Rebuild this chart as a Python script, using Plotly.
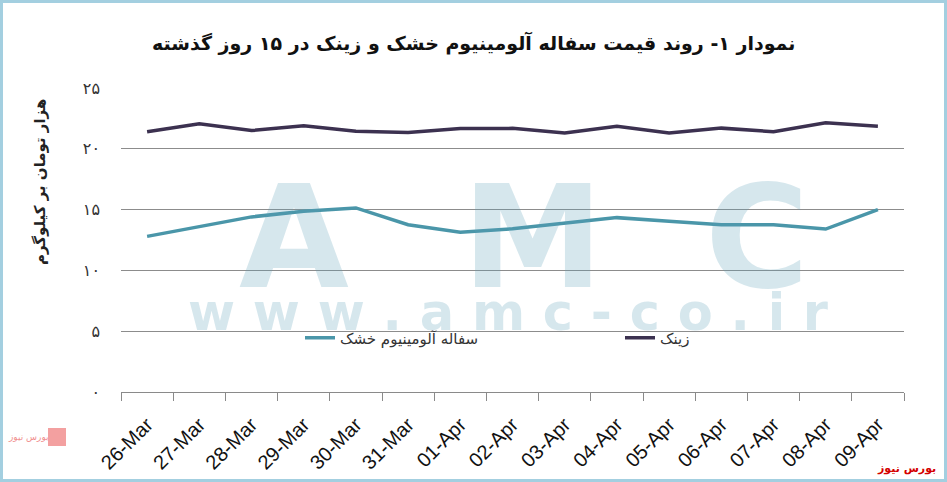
import plotly.graph_objects as go

dates = ["26-Mar", "27-Mar", "28-Mar", "29-Mar", "30-Mar", "31-Mar", "01-Apr", "02-Apr",
         "03-Apr", "04-Apr", "05-Apr", "06-Apr", "07-Apr", "08-Apr", "09-Apr"]
zinc = [21.4, 22.05, 21.5, 21.9, 21.45, 21.35, 21.67, 21.68, 21.3, 21.86, 21.3, 21.7, 21.4, 22.14, 21.86]
aluminum = [12.8, 13.62, 14.4, 14.86, 15.14, 13.76, 13.13, 13.42, 13.85, 14.34, 14.04, 13.76, 13.76, 13.4, 15.0]
ytick_vals = [0, 5, 10, 15, 20, 25]
ytick_text = ["۰", "۵", "۱۰", "۱۵", "۲۰", "۲۵"]

name_al = "سفاله آلومینیوم خشک"
name_zn = "زینک"
title = "نمودار ۱- روند قیمت سفاله آلومینیوم خشک و زینک در ۱۵ روز گذشته"
ytitle = "هزار تومان بر کیلوگرم"

W, H = 947, 482
L, R, T, B = 121, 43, 88, 90
pw, ph = W - L - R, H - T - B

def px(x):
    return (x - L) / pw

def py(y):
    return (H - B - y) / ph

fig = go.Figure()
fig.add_trace(go.Scatter(x=dates, y=aluminum, name=name_al, mode="lines", legend="legend",
                         line=dict(color="#4a96a9", width=3.5)))
fig.add_trace(go.Scatter(x=dates, y=zinc, name=name_zn, mode="lines", legend="legend2",
                         line=dict(color="#3c3150", width=3.5)))

wm = "rgba(90,160,185,0.25)"
annotations = []
for letter, cx in [("A", 294), ("M", 532), ("C", 757)]:
    annotations.append(dict(text=letter, x=px(cx), y=py(237), xref="paper", yref="paper",
                            showarrow=False, xanchor="center", yanchor="middle",
                            font=dict(family="DejaVu Sans", size=142, color=wm, weight="bold")))
annotations.append(dict(text="w\u00a0w\u00a0w\u00a0.\u00a0a\u00a0m\u00a0c\u00a0-\u00a0c\u00a0o\u00a0.\u00a0i\u00a0r",
                        x=px(508), y=py(312), xref="paper", yref="paper",
                        showarrow=False, xanchor="center", yanchor="middle",
                        font=dict(family="DejaVu Sans", size=51, color=wm, weight="bold")))
annotations.append(dict(text=title, x=px(474), y=py(43), xref="paper", yref="paper",
                        showarrow=False, xanchor="center", yanchor="middle",
                        font=dict(family="DejaVu Sans", size=19, color="#111", weight="bold")))
annotations.append(dict(text=ytitle, x=px(40), y=py(182), xref="paper", yref="paper",
                        showarrow=False, xanchor="center", yanchor="middle", textangle=-90,
                        font=dict(family="DejaVu Sans", size=15, color="#222", weight="bold")))
annotations.append(dict(text="بورس نیوز", x=px(938), y=py(468), xref="paper", yref="paper",
                        showarrow=False, xanchor="right", yanchor="middle",
                        font=dict(family="DejaVu Sans", size=11, color="#d40000", weight="bold")))
annotations.append(dict(text="بورس نیوز", x=px(28), y=py(437), xref="paper", yref="paper",
                        showarrow=False, xanchor="center", yanchor="middle",
                        font=dict(family="DejaVu Sans", size=9, color="#f19090")))

shapes = [
    dict(type="rect", xref="paper", yref="paper", x0=px(1.5), x1=px(W - 1.5),
         y0=py(H - 1.5), y1=py(1.5), line=dict(color="#a3cfe0", width=3), layer="above"),
    dict(type="rect", xref="paper", yref="paper", x0=px(48), x1=px(66),
         y0=py(446), y1=py(428), line=dict(width=0), fillcolor="#f3a0a0", layer="above"),
]

legend_font = dict(family="DejaVu Sans", size=15, color="#333")
fig.update_layout(
    width=W, height=H,
    margin=dict(l=L, r=R, t=T, b=B, autoexpand=False),
    paper_bgcolor="white", plot_bgcolor="white",
    showlegend=True,
    legend=dict(orientation="h", x=px(300), y=py(338), xanchor="left", yanchor="middle",
                bgcolor="rgba(0,0,0,0)", font=legend_font),
    legend2=dict(orientation="h", x=px(620), y=py(338), xanchor="left", yanchor="middle",
                 bgcolor="rgba(0,0,0,0)", font=legend_font),
    annotations=annotations,
    shapes=shapes,
    xaxis=dict(type="category", showline=True, linecolor="#8a8a8a", linewidth=1,
               ticks="outside", tickson="boundaries", ticklen=8, tickcolor="#8a8a8a",
               showgrid=False, tickangle=-45, ticklabelstandoff=12, automargin=False,
               tickfont=dict(family="Liberation Sans", size=20, color="#111"),
               range=[-0.5, len(dates) - 0.5]),
    yaxis=dict(range=[0, 25], tickvals=ytick_vals, ticktext=ytick_text, automargin=False,
               showgrid=True, gridcolor="#8c8c8c", gridwidth=1, zeroline=False,
               showline=False, ticks="", ticklabelstandoff=20,
               tickfont=dict(family="DejaVu Sans", size=16, color="#333")),
)

fig.write_html("out.html", config={"displayModeBar": False},
               post_script="document.body.style.margin='0';")
